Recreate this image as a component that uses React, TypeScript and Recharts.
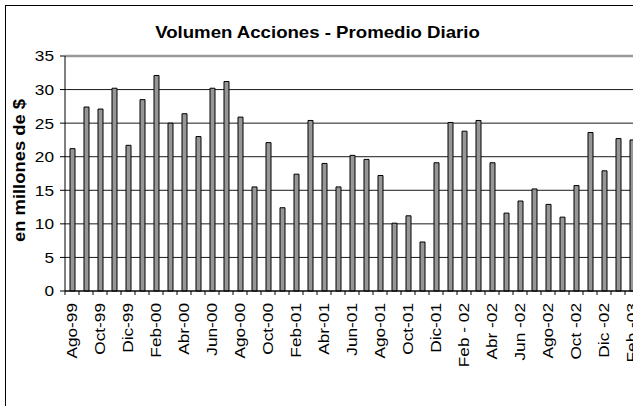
import React from 'react';
import { BarChart, Bar, XAxis, YAxis, CartesianGrid, ReferenceLine } from 'recharts';

const months = [
  'Ago-99', 'Sep-99', 'Oct-99', 'Nov-99', 'Dic-99', 'Ene-00', 'Feb-00', 'Mar-00', 'Abr-00', 'May-00',
  'Jun-00', 'Jul-00', 'Ago-00', 'Sep-00', 'Oct-00', 'Nov-00', 'Feb-01', 'Mar-01', 'Abr-01', 'May-01',
  'Jun-01', 'Jul-01', 'Ago-01', 'Sep-01', 'Oct-01', 'Nov-01', 'Dic-01', 'Ene-02', 'Feb - 02', 'Mar-02',
  'Abr -02', 'May-02', 'Jun -02', 'Jul-02', 'Ago-02', 'Sep-02', 'Oct -02', 'Nov-02', 'Dic -02', 'Ene-03',
  'Feb -03',
];

const volumes = [
  21.2, 27.4, 27.1, 30.2, 21.7, 28.5, 32.1, 25.0, 26.4, 23.0,
  30.2, 31.2, 25.9, 15.5, 22.1, 12.4, 17.4, 25.4, 19.0, 15.5,
  20.2, 19.6, 17.2, 10.1, 11.2, 7.3, 19.1, 25.1, 23.8, 25.4,
  19.1, 11.6, 13.4, 15.2, 12.9, 11.0, 15.7, 23.6, 17.9, 22.7,
  22.5,
];

const yTicks = [0, 5, 10, 15, 20, 25, 30, 35];
const titleText = 'Volumen Acciones - Promedio Diario';
const yLabelText = 'en millones de $';

const data = months.map((m, i) => ({ month: m, volumen: volumes[i] }));

const FONT = '"Liberation Sans", Arial, sans-serif';
const STRETCH = 1.15;
const X_TICK_SIZE = 4;
const X_TICK_MARGIN = 8;

function MonthTick(props: any) {
  const { x, y, payload, index } = props;
  const half = payload && typeof payload.offset === 'number' && payload.offset > 0 ? payload.offset : 7;
  const axisY = -(X_TICK_SIZE + X_TICK_MARGIN);
  return (
    <g transform={`translate(${x},${y})`}>
      <line x1={-half} x2={-half} y1={axisY} y2={axisY + X_TICK_SIZE} stroke="#000" strokeWidth={1} />
      {index % 2 === 0 ? (
        <text
          transform={`rotate(-90) scale(${STRETCH},1)`}
          x={0}
          y={0}
          dy="0.35em"
          textAnchor="end"
          fontSize={15}
          fontFamily={FONT}
          fill="#000"
        >
          {payload.value}
        </text>
      ) : null}
    </g>
  );
}

function ValueTick(props: any) {
  const { x, y, payload } = props;
  return (
    <text
      transform={`translate(${x},${y}) scale(${STRETCH},1)`}
      x={0}
      y={0}
      dy="0.36em"
      textAnchor="end"
      fontSize={15}
      fontFamily={FONT}
      fill="#000"
    >
      {payload.value}
    </text>
  );
}

function YLabel(props: any) {
  const vb = props.viewBox || { x: 0, y: 56, width: 65, height: 235 };
  const cx = vb.x + 19;
  const cy = vb.y + vb.height / 2 - 3;
  return (
    <text
      transform={`translate(${cx},${cy}) rotate(-90) scale(${STRETCH},1)`}
      x={0}
      y={0}
      dy="0.36em"
      textAnchor="middle"
      fontSize={16}
      fontWeight="bold"
      fontFamily={FONT}
      fill="#000"
    >
      {yLabelText}
    </text>
  );
}

export default function App() {
  return (
    <div
      style={{
        position: 'absolute',
        left: 0,
        top: 0,
        width: 633,
        height: 406,
        overflow: 'hidden',
        background: '#fff',
      }}
    >
      <div
        style={{
          position: 'absolute',
          left: 5,
          top: 5,
          width: 700,
          height: 500,
          border: '1px solid #000',
          boxSizing: 'border-box',
        }}
      />
      <svg width={633} height={60} style={{ position: 'absolute', left: 0, top: 0 }}>
        <text
          transform={`translate(317.5,38) scale(${STRETCH},1)`}
          x={0}
          y={0}
          textAnchor="middle"
          fontFamily={FONT}
          fontWeight="bold"
          fontSize={16.2}
          fill="#000"
        >
          {titleText}
        </text>
      </svg>
      <div style={{ position: 'absolute', left: 0, top: 0 }}>
        <BarChart
          width={640}
          height={406}
          data={data}
          margin={{ top: 56, right: 1, bottom: 0, left: 0 }}
        >
          <CartesianGrid vertical={false} stroke="#1a1a1a" strokeWidth={1} />
          <XAxis
            dataKey="month"
            interval={0}
            height={115}
            tickSize={X_TICK_SIZE}
            tickMargin={X_TICK_MARGIN}
            tickLine={false}
            axisLine={{ stroke: '#000', strokeWidth: 1 }}
            tick={<MonthTick />}
          />
          <YAxis
            width={65}
            domain={[0, 35]}
            ticks={yTicks}
            interval={0}
            tickSize={5}
            tickMargin={6}
            tickLine={{ stroke: '#000' }}
            axisLine={{ stroke: '#000', strokeWidth: 1 }}
            tick={<ValueTick />}
            label={YLabel}
          />
          <ReferenceLine y={35} stroke="#999" strokeWidth={2.5} ifOverflow="extendDomain" />
          <Bar
            dataKey="volumen"
            barSize={5}
            fill="#969696"
            stroke="#000"
            strokeWidth={1}
            isAnimationActive={false}
          />
        </BarChart>
      </div>
    </div>
  );
}
